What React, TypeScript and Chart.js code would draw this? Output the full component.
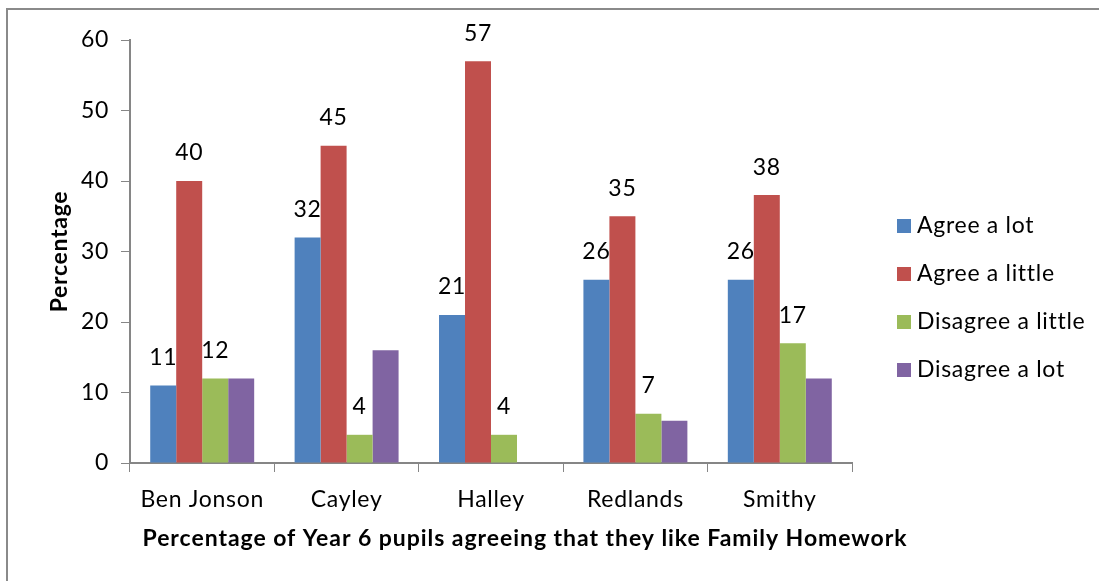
import React, { useEffect, useRef } from "react";
import { Chart, registerables } from "chart.js";

Chart.register(...registerables);

const categories = ["Ben Jonson", "Cayley", "Halley", "Redlands", "Smithy"];
const seriesNames = ["Agree a lot", "Agree a little", "Disagree a little", "Disagree a lot"];
const agreeLot = [11, 32, 21, 26, 26];
const agreeLittle = [40, 45, 57, 35, 38];
const disagreeLittle = [12, 4, 4, 7, 17];
const disagreeLot = [12, 16, 0, 6, 12];
const seriesValues = [agreeLot, agreeLittle, disagreeLittle, disagreeLot];
const seriesColors = ["#4F81BD", "#C0504D", "#9BBB59", "#8064A2"];
const labelledSeries = [true, true, true, false];
const yMin = 0;
const yMax = 60;
const yStep = 10;
const xTitle = "Percentage of Year 6 pupils agreeing that they like Family Homework";
const yTitle = "Percentage";

const FONT = "Lato";
const FS = 23;
const SPACING = "0.7px";

const setSpacing = (chart: any) => {
  try {
    chart.ctx.letterSpacing = SPACING;
  } catch (e) {}
};

const customDraw = {
  id: "customDraw",
  beforeInit: setSpacing,
  beforeLayout: setSpacing,
  beforeDraw: setSpacing,
  afterDatasetsDraw(chart: any) {
    const ctx = chart.ctx;
    ctx.save();
    ctx.font = `${FS}px ${FONT}`;
    ctx.fillStyle = "#000";
    ctx.textAlign = "center";
    ctx.textBaseline = "middle";
    chart.data.datasets.forEach((ds: any, i: number) => {
      if (!labelledSeries[i]) return;
      const meta = chart.getDatasetMeta(i);
      meta.data.forEach((bar: any, j: number) => {
        ctx.fillText(String(ds.data[j]), bar.x, bar.y - 28);
      });
    });
    ctx.restore();
  },
  afterDraw(chart: any) {
    const ctx = chart.ctx;
    const area = chart.chartArea;
    ctx.save();
    try {
      ctx.letterSpacing = "0.95px";
    } catch (e) {}
    ctx.font = `bold ${FS}px ${FONT}`;
    ctx.fillStyle = "#000";
    ctx.textAlign = "center";
    ctx.textBaseline = "middle";
    ctx.fillText(xTitle, area.left + 395, 539);
    try {
      ctx.letterSpacing = SPACING;
    } catch (e) {}
    ctx.font = `${FS}px ${FONT}`;
    ctx.textAlign = "left";
    chart.data.datasets.forEach((ds: any, i: number) => {
      const y = 226 + i * 48;
      const x = area.right + 45;
      ctx.fillStyle = ds.backgroundColor;
      ctx.fillRect(x, y - 7, 14, 14);
      ctx.fillStyle = "#000";
      ctx.fillText(ds.label, x + 20, y);
    });
    ctx.restore();
  },
};

export default function App() {
  const ref = useRef<HTMLCanvasElement | null>(null);
  useEffect(() => {
    if (!ref.current) return;
    const chart = new Chart(ref.current, {
      type: "bar",
      data: {
        labels: categories,
        datasets: seriesNames.map((name, i) => ({
          label: name,
          data: seriesValues[i],
          backgroundColor: seriesColors[i],
          borderWidth: 0,
          barPercentage: 1,
          categoryPercentage: 0.72,
        })),
      },
      options: {
        animation: false,
        responsive: false,
        maintainAspectRatio: false,
        layout: { padding: { left: 0, top: 40, right: 247, bottom: 0 } },
        plugins: {
          legend: { display: false },
          tooltip: { enabled: false },
        },
        scales: {
          x: {
            offset: true,
            grid: {
              offset: true,
              drawOnChartArea: false,
              drawTicks: true,
              tickLength: 9,
              color: "#868686",
            },
            border: { color: "#868686", width: 2 },
            ticks: {
              color: "#000",
              font: { family: FONT, size: FS },
              padding: 14,
              maxRotation: 0,
            },
            afterFit: (scale: any) => {
              scale.height = 118;
            },
          },
          y: {
            min: yMin,
            max: yMax,
            ticks: {
              stepSize: yStep,
              color: "#000",
              font: { family: FONT, size: FS },
              padding: 12,
            },
            grid: {
              drawOnChartArea: false,
              drawTicks: true,
              tickLength: 9,
              color: "#868686",
            },
            border: { color: "#868686", width: 2 },
            title: {
              display: true,
              text: yTitle,
              color: "#000",
              font: { family: FONT, size: FS, weight: "bold" },
              padding: { top: 46, bottom: 0 },
            },
            afterFit: (scale: any) => {
              scale.width = 130;
            },
          },
        },
      },
      plugins: [customDraw],
    });
    return () => chart.destroy();
  }, []);

  return (
    <div style={{ position: "absolute", left: 0, top: 0, width: 1099, height: 581, background: "#fff", overflow: "hidden" }}>
      <div
        style={{
          position: "absolute",
          left: 6,
          top: 8,
          width: 1200,
          height: 700,
          borderLeft: "2px solid #8a8a8a",
          borderTop: "2px solid #8a8a8a",
        }}
      />
      <canvas ref={ref} width={1099} height={581} style={{ position: "absolute", left: 0, top: 0 }} />
    </div>
  );
}
